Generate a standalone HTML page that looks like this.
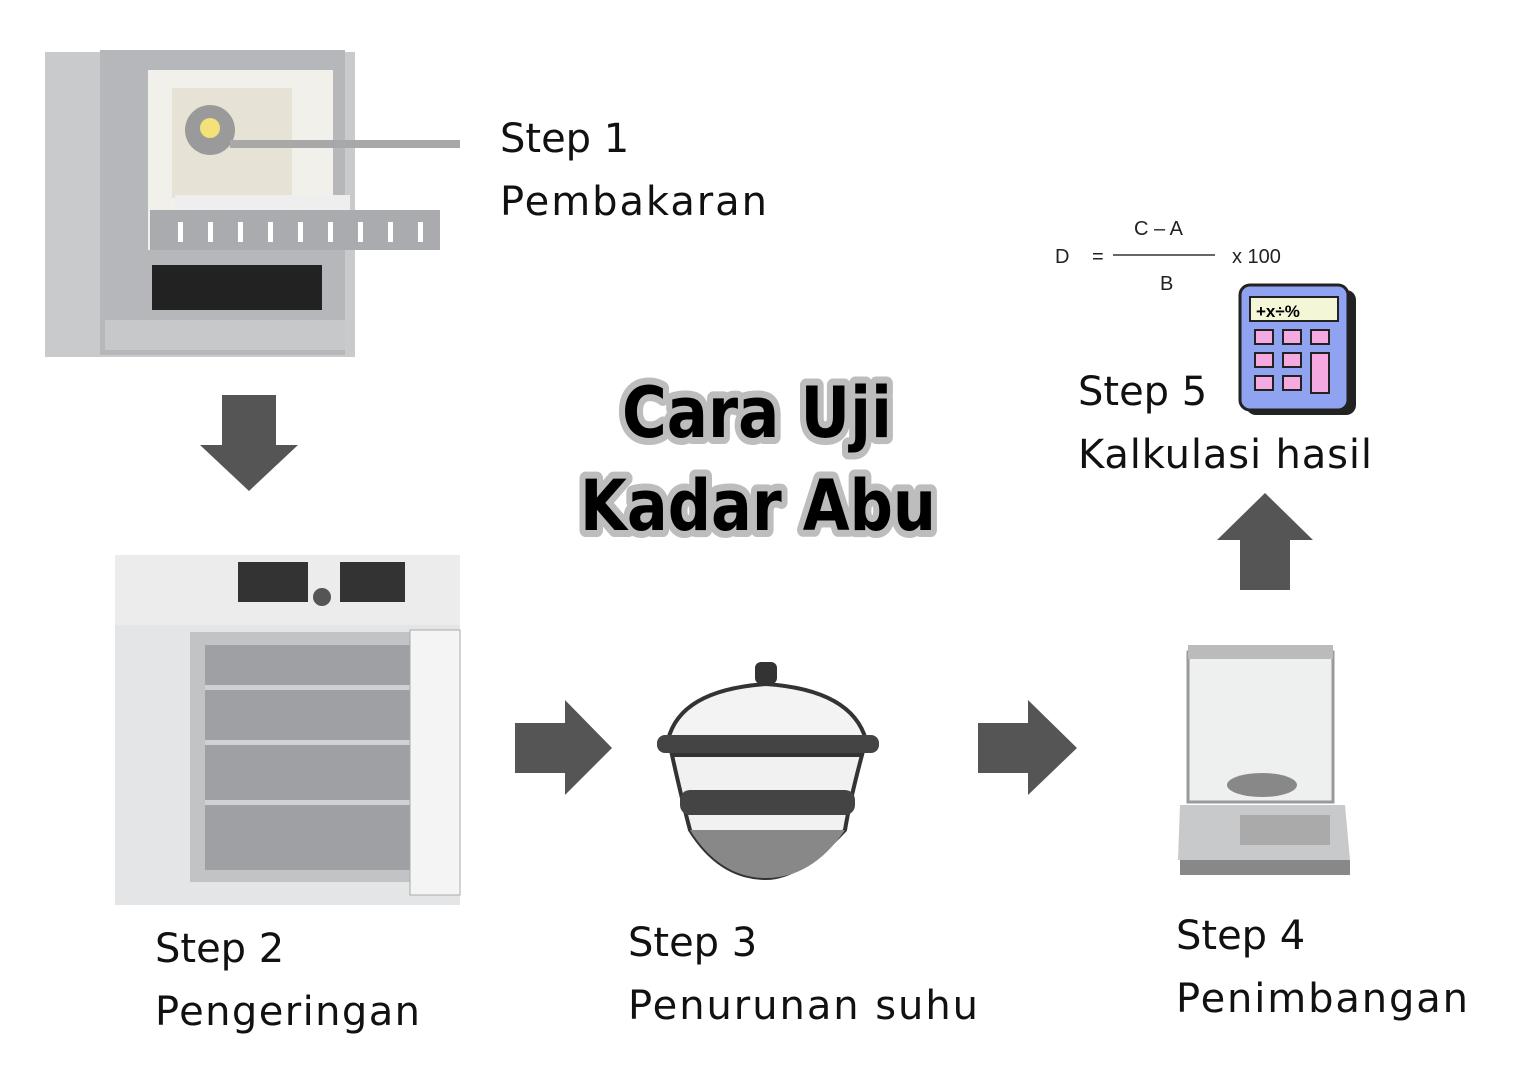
<!DOCTYPE html>
<html><head><meta charset="utf-8"><style>
body{margin:0;background:#fff;}
svg{display:block}
.t{font-family:"DejaVu Sans","Liberation Sans",sans-serif;font-size:40px;fill:#111}
</style></head><body>
<svg width="1518" height="1080" viewBox="0 0 1518 1080" xmlns="http://www.w3.org/2000/svg">
<!-- furnace -->
<rect x="45" y="52" width="310" height="305" fill="#c9cacc"/>
<rect x="100" y="50" width="245" height="305" fill="#b5b7ba"/>
<rect x="148" y="70" width="185" height="180" fill="#f2f0ea"/>
<rect x="172" y="88" width="120" height="110" fill="#e6e2d6"/>
<circle cx="210" cy="130" r="25" fill="#9a9a9a"/><circle cx="210" cy="128" r="10" fill="#f3e27a"/>
<rect x="230" y="140" width="230" height="8" fill="#a8a8a8"/>
<rect x="175" y="195" width="175" height="40" fill="#eee"/>
<rect x="150" y="210" width="290" height="40" fill="#a9abae"/>
<g fill="#fff"><rect x="178" y="222" width="5" height="20"/><rect x="208" y="222" width="5" height="20"/><rect x="238" y="222" width="5" height="20"/><rect x="268" y="222" width="5" height="20"/><rect x="298" y="222" width="5" height="20"/><rect x="328" y="222" width="5" height="20"/><rect x="358" y="222" width="5" height="20"/><rect x="388" y="222" width="5" height="20"/><rect x="418" y="222" width="5" height="20"/></g>
<rect x="152" y="265" width="170" height="45" fill="#222"/>
<rect x="105" y="320" width="240" height="30" fill="#c7c8ca"/>
<!-- arrow down -->
<polygon points="222,395 276,395 276,445 298,445 249,491 200,445 222,445" fill="#555"/>
<!-- oven -->
<rect x="115" y="555" width="345" height="350" fill="#e4e5e7"/>
<rect x="115" y="555" width="345" height="70" fill="#ececed"/>
<rect x="238" y="562" width="70" height="40" fill="#333"/><rect x="340" y="562" width="65" height="40" fill="#333"/>
<circle cx="322" cy="597" r="9" fill="#555"/>
<rect x="190" y="632" width="255" height="250" fill="#c2c3c5"/>
<rect x="205" y="645" width="220" height="225" fill="#9ea0a3"/>
<g fill="#d0d1d3"><rect x="205" y="685" width="220" height="5"/><rect x="205" y="740" width="220" height="5"/><rect x="205" y="800" width="220" height="5"/></g>
<rect x="410" y="630" width="50" height="265" fill="#f4f4f4" stroke="#aaa"/>
<!-- arrow right -->
<polygon points="515,723 565,723 565,700 612,748 565,795 565,773 515,773" fill="#555"/>
<!-- desiccator -->
<rect x="755" y="662" width="22" height="22" rx="6" fill="#333"/>
<path d="M668,740 Q680,690 766,684 Q852,690 866,740 Z" fill="#f3f3f3" stroke="#333" stroke-width="4"/>
<rect x="657" y="735" width="222" height="18" rx="8" fill="#444"/>
<path d="M672,755 L862,755 Q850,800 845,830 Q800,878 766,878 Q720,878 690,830 Q682,800 672,755 Z" fill="#f1f1f1" stroke="#333" stroke-width="4"/>
<rect x="680" y="790" width="175" height="25" rx="10" fill="#444"/>
<path d="M690,830 Q720,878 766,878 Q812,878 845,830 Z" fill="#888"/>
<!-- arrow right 2 -->
<polygon points="978,723 1028,723 1028,700 1077,748 1028,795 1028,773 978,773" fill="#555"/>
<!-- balance -->
<rect x="1188" y="652" width="145" height="150" fill="#eef0ef" stroke="#999" stroke-width="3"/>
<rect x="1188" y="645" width="145" height="14" fill="#bbb"/>
<ellipse cx="1262" cy="785" rx="35" ry="12" fill="#888"/>
<polygon points="1180,805 1345,805 1350,860 1178,860" fill="#c8c9cb"/>
<rect x="1240" y="815" width="90" height="30" fill="#aaa"/>
<rect x="1180" y="860" width="170" height="15" fill="#888"/>
<!-- arrow up -->
<polygon points="1240,590 1290,590 1290,540 1313,540 1265,493 1217,540 1240,540" fill="#555"/>
<!-- formula -->
<g font-family="Liberation Sans,sans-serif" font-size="20" fill="#222">
<text x="1055" y="263">D</text><text x="1092" y="263">=</text>
<line x1="1113" y1="255" x2="1215" y2="255" stroke="#333" stroke-width="1.5"/>
<text x="1134" y="235">C – A</text><text x="1160" y="290">B</text>
<text x="1232" y="263">x  100</text></g>
<!-- calculator -->
<rect x="1246" y="290" width="110" height="125" rx="10" fill="#222"/>
<rect x="1240" y="285" width="108" height="125" rx="10" fill="#8fa3f0" stroke="#222" stroke-width="3"/>
<rect x="1250" y="297" width="88" height="24" fill="#f3f7d8" stroke="#222" stroke-width="2"/>
<text x="1256" y="317" font-family="Liberation Sans,sans-serif" font-size="17" font-weight="bold">+x÷%</text>
<g fill="#f4a9e0" stroke="#222" stroke-width="2"><rect x="1255" y="330" width="18" height="14"/><rect x="1283" y="330" width="18" height="14"/><rect x="1311" y="330" width="18" height="14"/><rect x="1255" y="353" width="18" height="14"/><rect x="1283" y="353" width="18" height="14"/><rect x="1311" y="353" width="18" height="40"/><rect x="1255" y="376" width="18" height="14"/><rect x="1283" y="376" width="18" height="14"/></g>
<!-- title -->
<g font-family="DejaVu Sans,Liberation Sans,sans-serif" font-weight="bold" font-size="70" text-anchor="middle" fill="#000" stroke="#bdbdbd" stroke-width="14" stroke-linejoin="round" style="paint-order:stroke">
<text x="757" y="437" textLength="270" lengthAdjust="spacingAndGlyphs">Cara Uji</text>
<text x="758" y="530" textLength="356" lengthAdjust="spacingAndGlyphs">Kadar Abu</text></g>
<!-- labels -->
<text class="t" x="500" y="152">Step 1</text><text class="t" x="500" y="215" textLength="267">Pembakaran</text>
<text class="t" x="1078" y="405">Step 5</text><text class="t" x="1078" y="468" textLength="294">Kalkulasi hasil</text>
<text class="t" x="155" y="962">Step 2</text><text class="t" x="155" y="1025" textLength="265">Pengeringan</text>
<text class="t" x="628" y="956">Step 3</text><text class="t" x="628" y="1019" textLength="350">Penurunan suhu</text>
<text class="t" x="1176" y="949">Step 4</text><text class="t" x="1176" y="1012" textLength="292">Penimbangan</text>
</svg>
</body></html>
